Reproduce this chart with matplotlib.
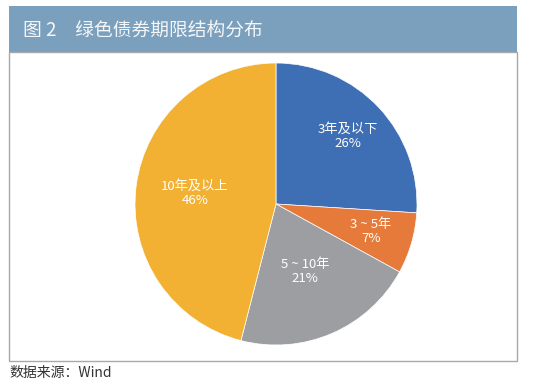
"""Pie chart of green bond maturity structure."""

import matplotlib
matplotlib.use("Agg")
import matplotlib.pyplot as plt  # noqa: E402
from matplotlib.patches import Rectangle  # noqa: E402
import numpy as np  # noqa: E402

plt.rcParams["font.family"] = ["Noto Sans CJK SC", "DejaVu Sans"]

BAR_COLOR = "#7aa0be"
BORDER_COLOR = "#a9a9a9"
TEXT_COLOR = "#333333"

categories = ["3年及以下", "3 ~ 5年", "5 ~ 10年", "10年及以上"]
shares = [26, 7, 21, 46]
colors = ["#3e6fb5", "#e57a3b", "#9c9ea2", "#f3b133"]

fig = plt.figure(figsize=(5.5, 3.85), dpi=100)
fig.patch.set_facecolor("white")

# Title bar
W, H = 550, 385
fig.patches.append(Rectangle((9 / W, 1 - 52 / H), 508 / W, 46 / H,
                             transform=fig.transFigure, facecolor=BAR_COLOR,
                             edgecolor="none", zorder=0))
fig.text(23 / W, 1 - 30 / H, "图 2　绿色债券期限结构分布", color="#f4f6f8",
         fontsize=13.5, ha="left", va="center")

# Chart frame
fig.patches.append(Rectangle((9 / W, 1 - 361 / H), 508 / W, 309 / H,
                             transform=fig.transFigure, facecolor="none",
                             edgecolor=BORDER_COLOR, linewidth=1, zorder=0))

fig.text(9 / W, 1 - 373 / H, "数据来源：Wind", color=TEXT_COLOR,
         fontsize=10, ha="left", va="center")

ax = fig.add_axes([135 / W, 1 - 345 / H, 282 / W, 282 / H])
wedges, texts = ax.pie(
    shares, colors=colors, startangle=90, counterclock=False,
    wedgeprops=dict(edgecolor="white", linewidth=0.5),
)
ax.set_xlim(-1, 1)
ax.set_ylim(-1, 1)
ax.set_aspect("equal")

# Labels inside wedges
dists = [0.70, 0.70, 0.52, 0.58]
for w, cat, val, d in zip(wedges, categories, shares, dists):
    ang = np.deg2rad((w.theta1 + w.theta2) / 2)
    ax.text(d * np.cos(ang), d * np.sin(ang), f"{cat}\n{val}%",
            color="white", fontsize=9.5, ha="center", va="center",
            linespacing=1.1)

fig.savefig("out.png", dpi=100, facecolor="white")
